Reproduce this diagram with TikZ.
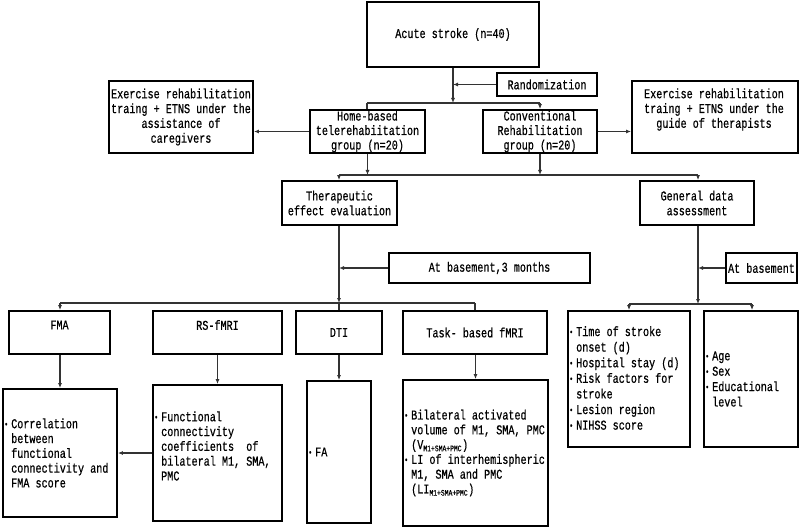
\documentclass[tikz,border=0pt]{standalone}
\usepackage{fontspec}
\setmainfont{Liberation Mono}[FakeStretch=0.75,FakeBold=0.6]
\usetikzlibrary{arrows.meta}
\newcommand{\bl}{\makebox[7bp][l]{\raisebox{0.15ex}{\fontsize{9bp}{9bp}\selectfont •}}}
\newcommand{\ind}{\hspace*{7bp}}
\newcommand{\sub}[1]{\textsubscript{\fontsize{8.5bp}{8.5bp}\selectfont #1}}
\begin{document}
\begin{tikzpicture}[x=1bp,y=-1bp,
  txt/.style={font=\fontsize{13.5bp}{14.8bp}\selectfont, inner sep=0pt, align=center},
  ltxt/.style={font=\fontsize{13.5bp}{14.8bp}\selectfont, inner sep=0pt, align=left, anchor=west},
  box/.style={draw=black, line width=1.8bp, inner sep=0pt, font=\fontsize{13.5bp}{14.8bp}\selectfont, align=center},
  conn/.style={draw=black!80, line width=1.2bp},
  arr/.style={conn, -{Latex[length=5bp,width=4bp]}}]
\useasboundingbox[fill=white] (0,0) rectangle (800,528);

% boxes (center, width, height)
\node[box, minimum width=172bp, minimum height=65bp] (stroke) at (453,34.5) {Acute stroke (n=40)};
\node[box, minimum width=100bp, minimum height=23bp] (rand) at (547,84.5) {Randomization};
\node[box, minimum width=115bp, minimum height=43bp, font=\fontsize{13.5bp}{14.5bp}\selectfont] (home) at (367.5,131.5) {Home-based\\telerehabiitation\\group (n=20)};
\node[box, minimum width=114bp, minimum height=43bp, font=\fontsize{13.5bp}{14.5bp}\selectfont] (conv) at (540,131.5) {Conventional\\Rehabilitation\\group (n=20)};
\node[box, minimum width=144bp, minimum height=72bp] (exL) at (181,117) {Exercise rehabilitation\\traing + ETNS under the\\assistance of\\caregivers};
\node[box, minimum width=166bp, minimum height=72bp] (exR) at (715,117) {};
\node[txt] (exRt) at (714,109.5) {Exercise rehabilitation\\traing + ETNS under the\\guide of therapists};
\node[box, minimum width=115bp, minimum height=44bp] (ther) at (339.5,203) {Therapeutic\\effect evaluation};
\node[box, minimum width=114bp, minimum height=44bp] (gen) at (697,203) {General data\\assessment};
\node[box, minimum width=201bp, minimum height=30bp] (atb3) at (489.5,268) {At basement,3 months};
\node[box, minimum width=71bp, minimum height=30bp] (atb) at (761.5,268) {At basement};

\node[box, minimum width=101bp, minimum height=43bp] (fma) at (59.5,332.5) {};
\node[txt] (fmat) at (59.5,325) {FMA};
\node[box, minimum width=129bp, minimum height=43bp] (rs) at (217.5,332.5) {};
\node[txt] (rst) at (217.5,325) {RS-fMRI};
\node[box, minimum width=86bp, minimum height=43bp] (dti) at (339,332.5) {DTI};
\node[box, minimum width=144bp, minimum height=43bp] (task) at (475,332.5) {Task- based fMRI};

\node[box, minimum width=114bp, minimum height=128bp] (corr) at (60,453) {};
\node[box, minimum width=129bp, minimum height=136bp] (func) at (217.5,453) {};
\node[box, minimum width=64bp, minimum height=142bp] (fa) at (339,452) {};
\node[box, minimum width=145bp, minimum height=146bp] (bil) at (475.5,453) {};
\node[box, minimum width=122bp, minimum height=136bp] (time) at (629,379) {};
\node[box, minimum width=94bp, minimum height=136bp] (age) at (751,379) {};

% list texts
\node[ltxt] (corrt) at (4,453) {\bl Correlation\\\ind between\\\ind functional\\\ind connectivity and\\\ind FMA score};
\node[ltxt] (funct) at (154,446) {\bl Functional\\\ind connectivity\\\ind coefficients~ of\\\ind bilateral M1, SMA,\\\ind PMC};
\node[ltxt] (fat) at (308,452) {\bl FA};
\node[ltxt] (bilt) at (404,453) {\bl Bilateral activated\\\ind volume of M1, SMA, PMC\\\ind (V\sub{M1+SMA+PMC})\\\bl LI of interhemispheric\\\ind M1, SMA and PMC\\\ind (LI\sub{M1+SMA+PMC})};
\node[ltxt, font=\fontsize{13.5bp}{15.6bp}\selectfont] (timet) at (569,378) {\bl Time of stroke\\\ind onset (d)\\\bl Hospital stay (d)\\\bl Risk factors for\\\ind stroke\\\bl Lesion region\\\bl NIHSS score};
\node[ltxt, font=\fontsize{13.5bp}{15.4bp}\selectfont] (aget) at (705,379) {\bl Age\\\bl Sex\\\bl Educational\\\ind level};

% junction coordinates
\coordinate (j1) at (453,103);
\coordinate (jh) at (367,103);
\coordinate (jc) at (540,103);
\coordinate (j2l) at (339,175);
\coordinate (j2r) at (698,175);
\coordinate (j3l) at (60,303);
\coordinate (j3m) at (339,303);
\coordinate (j3r) at (475,303);
\coordinate (j4l) at (629,304);
\coordinate (j4m) at (698,304);
\coordinate (j4r) at (752,304);

% connectors
\draw[arr] (stroke.south) -- (j1);
\draw[arr] (rand.west) -- (rand.west -| j1);
\draw[conn] (jh) -- (jc);
\draw[conn] (jh) -- (jh |- home.north);
\draw[arr] (jc) -- (jc |- conv.north);
\draw[arr] (home.west) -- (home.west -| exL.east);
\draw[arr] (conv.east) -- (conv.east -| exR.west);

\draw[arr] (home.south) -- (home.south |- j2l);
\draw[arr] (conv.south) -- (conv.south |- j2l);
\draw[conn] (j2l) -- (j2r);
\draw[arr] (j2l) -- (j2l |- ther.north);
\draw[arr] (j2r) -- (j2r |- gen.north);

\draw[arr] (ther.south -| j3m) -- (j3m);
\draw[arr] (atb3.west) -- (atb3.west -| j3m);
\draw[conn] (j3l) -- (j3r);
\draw[arr] (j3l) -- (j3l |- fma.north);
\draw[conn] (j3m) -- (j3m |- dti.north);
\draw[conn] (j3r) -- (j3r |- task.north);

\draw[arr] (gen.south -| j4m) -- (j4m);
\draw[arr] (atb.west) -- (atb.west -| j4m);
\draw[conn] (j4l) -- (j4r);
\draw[arr] (j4l) -- (j4l |- time.north);
\draw[arr] (j4r) -- (j4r |- age.north);

\draw[arr] (fma.south -| corr.north) -- (corr.north);
\draw[arr] (rs.south) -- (func.north);
\draw[arr] (dti.south) -- (fa.north);
\draw[arr] (task.south -| bil.north) -- (bil.north);
\draw[arr] (func.west) -- (corr.east);
\end{tikzpicture}
\end{document}
